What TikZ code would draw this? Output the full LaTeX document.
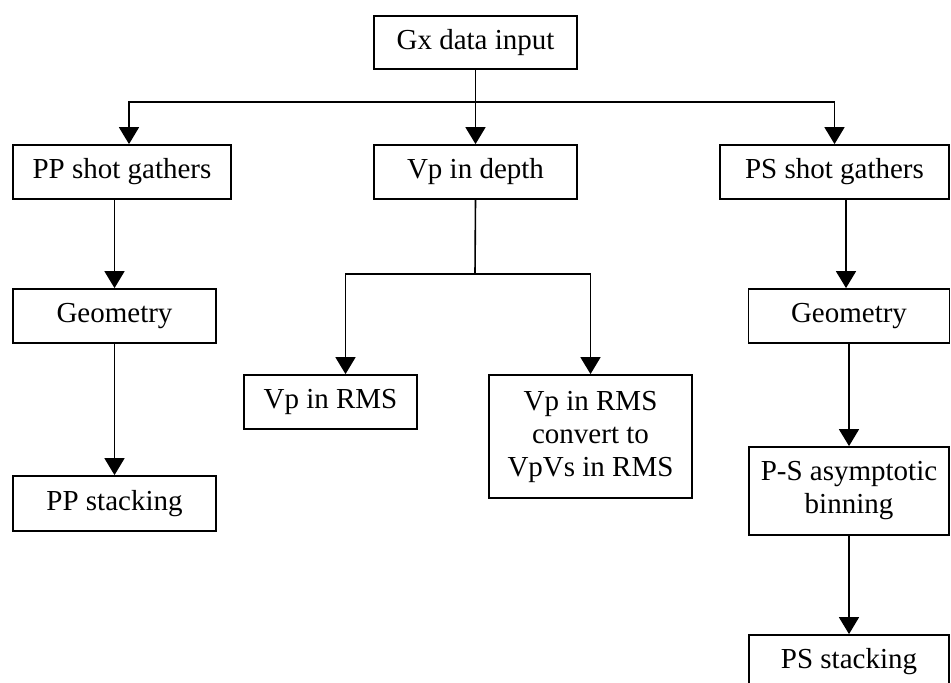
\documentclass[tikz,border=0pt]{standalone}
\usepackage{fontspec}
\setmainfont{Liberation Serif}
\usetikzlibrary{arrows.meta}
\begin{document}
\begin{tikzpicture}[x=1pt,y=-1pt,
  box/.style={draw=black, line width=1.8pt, fill=white, inner sep=0pt,
    align=center, font=\fontsize{29}{33}\selectfont},
  arr/.style={draw=black, line width=1.6pt, -{Triangle[width=20pt,length=17pt]}},
  link/.style={draw=black, line width=1.6pt}]
\useasboundingbox (0,0) rectangle (951,683);
\clip (0,0) rectangle (951,683);
\fill[white] (0,0) rectangle (951,683);

% process boxes
\node[box, minimum width=203, minimum height=53] (gx)     at (475.5,42.5) {Gx data input};
\node[box, minimum width=218, minimum height=54] (pp)     at (122,172)    {PP shot gathers};
\node[box, minimum width=203, minimum height=54] (vpd)    at (475.5,172)  {Vp in depth};
\node[box, minimum width=229, minimum height=54] (ps)     at (834.5,172)  {PS shot gathers};
\node[box, minimum width=203, minimum height=54] (geoL)   at (114.5,316)  {Geometry};
\node[box, minimum width=201, minimum height=54] (geoR)   at (849,316)    {Geometry};
\node[box, minimum width=173, minimum height=54] (vprms)  at (330.5,402)  {Vp in RMS};
\node[box, minimum width=203, minimum height=123] (vpconv) at (590.5,436.5) {Vp in RMS\\convert to\\VpVs in RMS};
\node[box, minimum width=200, minimum height=88] (psbin)  at (849,491)    {P-S asymptotic\\binning};
\node[box, minimum width=203, minimum height=55] (ppstack) at (114.5,503.5) {PP stacking};
\node[box, minimum width=200, minimum height=54] (psstack) at (849,662)   {PS stacking};

% branching points
\coordinate (bus) at (475,102);
\coordinate (split) at (475,274);

% top distribution
\draw[arr] (gx.south) -- (vpd.north);
\draw[arr] (bus) -| ([xshift=7]pp.north);
\draw[arr] (bus) -| (ps.north);

% PP branch
\draw[arr] (geoL.north |- pp.south) -- (geoL.north);
\draw[arr] (geoL.south) -- (ppstack.north);

% velocity branch
\draw[link] (vpd.south) -- (split);
\draw[arr] (split) -| ([xshift=15]vprms.north);
\draw[arr] (split) -| (vpconv.north);

% PS branch
\draw[arr] ([xshift=-3]geoR.north |- ps.south) -- ([xshift=-3]geoR.north);
\draw[arr] (geoR.south) -- (psbin.north);
\draw[arr] (psbin.south) -- (psstack.north);
\end{tikzpicture}
\end{document}
